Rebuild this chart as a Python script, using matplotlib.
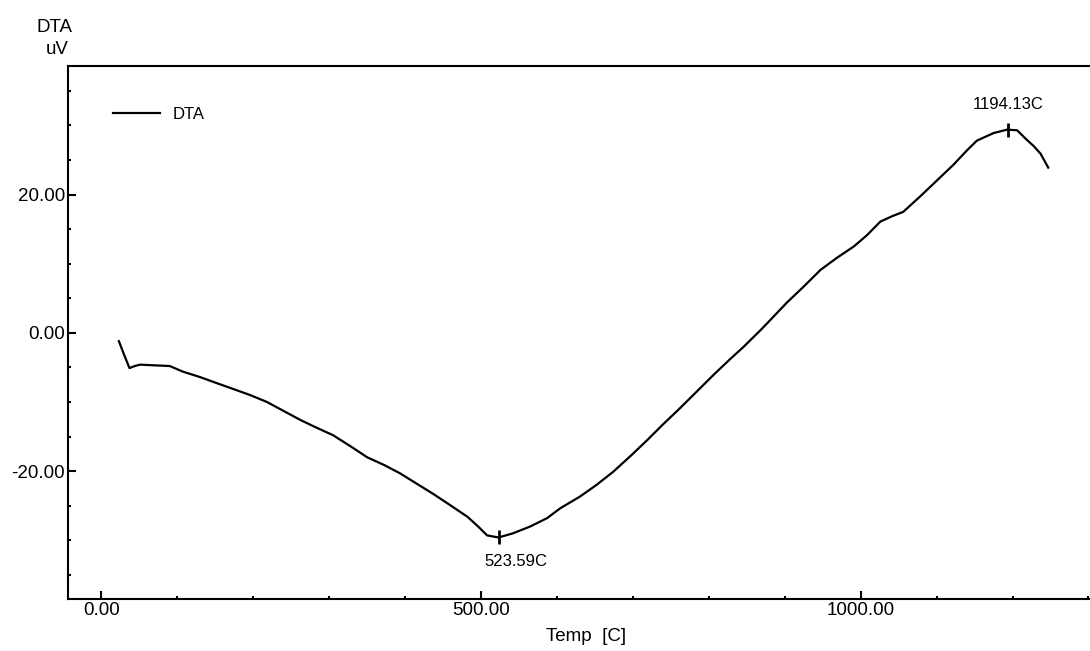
import numpy as np
import matplotlib.pyplot as plt
from matplotlib.ticker import MultipleLocator, FormatStrFormatter

plt.rcParams['font.family'] = ['Liberation Sans', 'DejaVu Sans']

# DTA curve
temp = [23, 30, 37, 44, 51, 70, 90, 107, 130, 150, 173, 196, 218, 240, 262,
        283, 305, 328, 350, 372, 393, 415, 437, 459, 482, 497, 508, 523,
        542, 565, 587, 604, 630, 652, 674, 697, 719, 740, 762, 784, 806,
        828, 846, 870, 903, 925, 947, 968, 991, 1008, 1026, 1042, 1056,
        1078, 1100, 1122, 1140, 1153, 1175, 1193, 1206, 1219, 1228, 1237, 1247]
dta = [-1.2, -3.2, -5.1, -4.8, -4.6, -4.7, -4.8, -5.6, -6.4, -7.2, -8.1, -9.0,
       -10.0, -11.3, -12.6, -13.7, -14.8, -16.4, -18.0, -19.1, -20.3, -21.8,
       -23.3, -24.9, -26.6, -28.1, -29.3, -29.6, -29.0, -28.0, -26.8, -25.4,
       -23.7, -22.0, -20.1, -17.8, -15.5, -13.2, -10.9, -8.5, -6.1, -3.8,
       -2.0, 0.6, 4.4, 6.7, 9.1, 10.8, 12.5, 14.1, 16.1, 16.9, 17.5,
       19.7, 22.0, 24.3, 26.4, 27.8, 28.9, 29.4, 29.3, 27.9, 27.0, 25.9, 23.9]

peaks_t = [523.59, 1194.13]
peaks_v = [-29.6, 29.4]
peak_labels = ['523.59C', '1194.13C']

fig = plt.figure(figsize=(10.9, 6.51), dpi=100)
ax = fig.add_axes([68/1090, 52/651, 1022/1090, 533/651])

ax.plot(temp, dta, color='black', lw=1.6, label='DTA')

# little vertical marks at the peaks + labels
ax.plot(peaks_t, peaks_v, ls='none', marker='|', ms=10, mew=2, color='black')
ax.annotate(peak_labels[0], (peaks_t[0], peaks_v[0]), xytext=(12, -17),
            textcoords='offset points', ha='center', va='center', fontsize=12)
ax.annotate(peak_labels[1], (peaks_t[1], peaks_v[1]), xytext=(0, 18),
            textcoords='offset points', ha='center', va='center', fontsize=12)

ax.set_xlim(-44, 1302)
ax.set_ylim(-38.5, 38.6)

ax.xaxis.set_major_locator(MultipleLocator(500))
ax.xaxis.set_minor_locator(MultipleLocator(100))
ax.yaxis.set_major_locator(MultipleLocator(20))
ax.yaxis.set_minor_locator(MultipleLocator(5))
ax.xaxis.set_major_formatter(FormatStrFormatter('%.2f'))
ax.yaxis.set_major_formatter(FormatStrFormatter('%.2f'))

ax.tick_params(which='major', direction='in', length=6, width=1.5,
               labelsize=13.5, pad=2)
ax.tick_params(which='minor', direction='in', length=2.5, width=1.5)

ax.spines['right'].set_visible(False)
for s in ['left', 'bottom', 'top']:
    ax.spines[s].set_linewidth(1.5)

ax.set_xlabel('Temp  [C]', fontsize=13.5, labelpad=0)
ax.xaxis.set_label_coords(0.507, -0.055)

fig.text(54/1090, 1 - 27/651, 'DTA', fontsize=13.5, ha='center', va='center')
fig.text(57/1090, 1 - 50/651, 'uV', fontsize=13.5, ha='center', va='center')

ax.legend(loc='upper left', bbox_to_anchor=(0.044, 0.924), frameon=False,
          fontsize=12, handlelength=2.8, handletextpad=0.8,
          borderaxespad=0, borderpad=0)

fig.savefig('out.png', dpi=100)
